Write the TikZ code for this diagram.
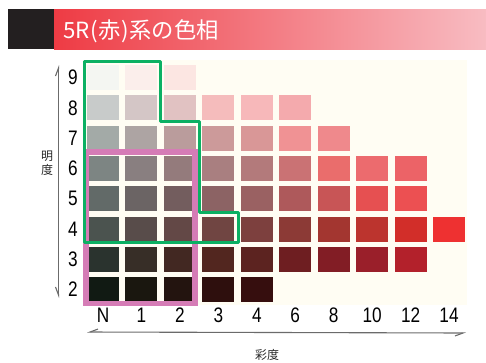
\documentclass[tikz,border=0pt]{standalone}
\usepackage{fontspec}
\usepackage{tikz}
\usetikzlibrary{shapes,arrows,positioning}
\usetikzlibrary{arrows.meta}
\newfontfamily\jpfont{Noto Sans CJK JP}
\newfontfamily\numfont[FakeStretch=0.82]{Liberation Sans}
\definecolor{headred}{HTML}{EE3B44}
\definecolor{headpink}{HTML}{F8BCC2}
\definecolor{headblack}{HTML}{231F20}
\definecolor{paper}{HTML}{FFFDF3}
\definecolor{rimgreen}{HTML}{0BB063}
\definecolor{rimpink}{HTML}{D57CB6}
\definecolor{axisgray}{HTML}{6B6B6B}
\tikzset{
	swatch/.style={rectangle, inner sep=0pt, minimum width=32pt, minimum height=25pt},
	numlabel/.style={font=\numfont\fontsize{21}{21}\selectfont, inner sep=0pt},
	axlabel/.style={font=\jpfont\fontsize{12}{14}\selectfont, text=black!85, inner sep=0pt, align=center},
	axisline/.style={line width=1.1pt, draw=axisgray}
}

\begin{document}
\begin{tikzpicture}[x=1pt, y=-1pt]
				\useasboundingbox (0,0) rectangle (486,362);
				% title bar
				\fill [headblack] (8,9) rectangle (54,49);
				\shade [left color=headred, right color=headpink] (54,9) rectangle (486,49);
				\node [anchor=base west, inner sep=0pt, text=white, font=\jpfont\fontsize{22.3}{22.3}\selectfont] (title) at (63,38) {5R\kern1pt(\kern0.5pt赤\kern0.5pt)\kern0.5pt系の色相};
				% chart
				\fill [paper] (83,60) rectangle (467,305);
				\foreach \c/\r/\h in {0/9/F4F6F2, 1/9/FBEEEB, 2/9/FCE6E2,
						0/8/C8CBCA, 1/8/D4C6C6, 2/8/E1C2C2, 3/8/F5BCBC, 4/8/F7B8BA, 5/8/F4AAAD,
						0/7/A3AAA7, 1/7/ADA4A3, 2/7/BA9C9C, 3/7/CC9A9A, 4/7/D99797, 5/7/F09294, 6/7/EF898C,
						0/6/7D8583, 1/6/897F80, 2/6/947B7C, 3/6/A97F80, 4/6/B37A7B, 5/6/CA7274, 6/6/EA6D6C, 7/6/EC6B6E, 8/6/EC6367,
						0/5/626A68, 1/5/6B6464, 2/5/735D5E, 3/5/8C6364, 4/5/9A6162, 5/5/AE595B, 6/5/C85556, 7/5/E65051, 8/5/EC5052,
						0/4/4B534F, 1/4/584C4A, 2/4/634846, 3/4/704542, 4/4/7D403E, 5/4/8C3A36, 6/4/A33630, 7/4/BC342E, 8/4/D22E29, 9/4/EE3131,
						0/3/2A332E, 1/3/372E27, 2/3/422822, 3/3/52261F, 4/3/5C2320, 5/3/6E1E21, 6/3/821D25, 7/3/9A1F2A, 8/3/B3212B,
						0/2/111A13, 1/2/1A170F, 2/2/23140F, 3/2/2E0F0D, 4/2/360E0E}
				{
					\edef\setsw{\noexpand\definecolor{sw}{HTML}{\h}}\setsw
					\node [swatch, fill=sw] (s\c-\r) at ({103+38.45*\c},{77.5+30.3*(9-\r)}) {};
				}
				% value and chroma numbers
				\foreach \r in {2,...,9}
					\node [numlabel] (v\r) at (73,{77.5+30.3*(9-\r)}) {\r};
				\foreach \c/\t in {0/N,1/1,2/2,3/3,4/4,5/6,6/8,7/10,8/12,9/14}
					\node [numlabel] (k\c) at ({103+38.45*\c},315) {\t};
				% outlines
				\draw [line width=5.5pt, draw=rimpink] (86,152) rectangle (195,303.5);
				\draw [line width=3pt, draw=rimgreen, line join=round] (84,61) -- (160,61) -- (160,121) -- (199,121) -- (199,212) -- (238,212) -- (238,242) -- (84,242) -- cycle;
				% axes
				\coordinate (vbot) at (58.5,298);
				\coordinate (vtop) at (58.5,65);
				\coordinate (hleft) at (87,332);
				\coordinate (hright) at (466,333);
				\draw [{Straight Barb[right, length=8pt, width=6pt]}-{Straight Barb[left, length=8pt, width=6pt]}] [axisline] (vbot) -- (vtop);
				\draw [{Straight Barb[right, length=8pt, width=6pt]}-{Straight Barb[right, length=8pt, width=6pt]}] [axisline] (hleft) -- (hright);
				\node [axlabel] (ming) at (47,163) {明\\度};
				\node [axlabel] (sai) at (267,355) {彩度};
\end{tikzpicture}
\end{document}
